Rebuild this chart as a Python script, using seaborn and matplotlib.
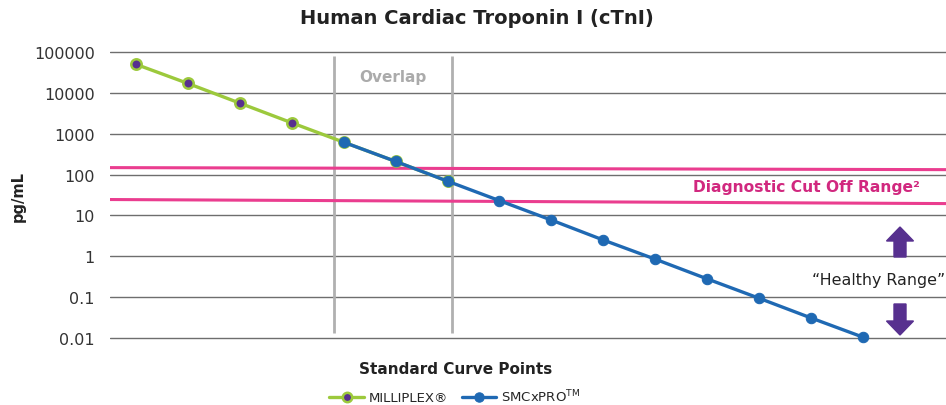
import pandas as pd
import matplotlib.pyplot as plt
import seaborn as sns
from matplotlib.patches import FancyArrow

# ---------------------------------------------------------------
# Data
# ---------------------------------------------------------------
milliplex_pts = [0, 1, 2, 3, 4, 5, 6]
milliplex_vals = [50000, 17000, 5600, 1850, 620, 210, 69]

smcx_pts = [4, 5, 6, 7, 8, 9, 10, 11, 12, 13, 14]
smcx_vals = [620, 210, 69, 23, 7.7, 2.5, 0.85, 0.28, 0.094, 0.031, 0.0105]

cutoff_x = [-0.5, 15.6]
cutoff_high = [148, 132]
cutoff_low = [24.5, 19.5]

overlap_x = [3.81, 6.08]
yticks = [0.01, 0.1, 1, 10, 100, 1000, 10000, 100000]
ytick_labels = ["0.01", "0.1", "1", "10", "100", "1000", "10000", "100000"]

df_m = pd.DataFrame({"point": milliplex_pts, "value": milliplex_vals})
df_s = pd.DataFrame({"point": smcx_pts, "value": smcx_vals})

# ---------------------------------------------------------------
# Style
# ---------------------------------------------------------------
sns.set_style("white")
plt.rcParams['font.family'] = ['DejaVu Sans']

GREEN = "#9cc93c"
PURPLE = "#57308f"
BLUE = "#1f69b3"
PINK = "#ea3d8f"
MAGENTA = "#d1287f"

fig = plt.figure(figsize=(9.46, 4.06), dpi=100)
# 0.01 sits at y=339px, 1e5 at y=53px; pad 0.1 decade on both ends
px_dec = 286 / 7
ax = fig.add_axes([110 / 946, (406 - 339 - 0.1 * px_dec) / 406,
                   836 / 946, (286 + 0.2 * px_dec) / 406])

ax.set_yscale("log")
ax.set_ylim(10 ** -2.1, 10 ** 5.1)
ax.set_xlim(-0.5, 15.6)
ax.set_yticks(yticks)
ax.set_yticklabels(ytick_labels, fontsize=11.5, color="#333333")
ax.minorticks_off()
ax.set_xticks([])
ax.tick_params(axis="y", length=0, pad=11)
for s in ax.spines.values():
    s.set_visible(False)
ax.grid(axis="y", color="#555555", linewidth=1.0, alpha=0.85)
ax.set_axisbelow(True)

# overlap region
ax.vlines(overlap_x, 0.013, 80000, color="#b0b0b0", linewidth=2, zorder=1)
ax.text(sum(overlap_x) / 2, 25000, "Overlap", ha="center", va="center",
        fontsize=11, fontweight="bold", color="#ababab")

# cut-off lines
ax.plot(cutoff_x, cutoff_high, color=PINK, linewidth=2.2, zorder=2)
ax.plot(cutoff_x, cutoff_low, color=PINK, linewidth=2.2, zorder=2)

# series
sns.lineplot(data=df_m, x="point", y="value", ax=ax, color=GREEN, linewidth=2.4,
             marker="o", markersize=7.5, markerfacecolor=PURPLE,
             markeredgecolor=GREEN, markeredgewidth=1.8, label="MILLIPLEX®",
             zorder=3, clip_on=False)
sns.lineplot(data=df_s, x="point", y="value", ax=ax, color=BLUE, linewidth=2.4,
             marker="o", markersize=7.5, markerfacecolor=BLUE,
             markeredgecolor=BLUE, label="SMCxPRO$^{\\rm TM}$",
             zorder=4, clip_on=False)

ax.set_xlabel("")
ax.set_ylabel("")

# annotations
fig.text(806 / 946, 1 - 188 / 406, "Diagnostic Cut Off Range²", ha="center",
         va="center", fontsize=11.2, fontweight="bold", color=MAGENTA)
fig.text(879 / 946, 1 - 280 / 406, "\u201cHealthy Range\u201d", ha="center",
         va="center", fontsize=11.4, color="#222222")

up = FancyArrow(9.00, 4.06 - 2.58, 0, 0.30, width=0.12, head_width=0.27,
                head_length=0.14, length_includes_head=True, color=PURPLE,
                transform=fig.dpi_scale_trans)
down = FancyArrow(9.00, 4.06 - 3.05, 0, -0.31, width=0.12, head_width=0.27,
                  head_length=0.14, length_includes_head=True, color=PURPLE,
                  transform=fig.dpi_scale_trans)
fig.add_artist(up)
fig.add_artist(down)

fig.text(477 / 946, 1 - 19 / 406, "Human Cardiac Troponin I (cTnI)",
         ha="center", va="center", fontsize=14, fontweight="bold",
         color="#222222")
fig.text(456 / 946, 1 - 370 / 406, "Standard Curve Points", ha="center",
         va="center", fontsize=11, fontweight="bold", color="#222222")
fig.text(18 / 946, 1 - 196 / 406, "pg/mL", ha="center", va="center",
         rotation=90, fontsize=10.5, fontweight="bold", color="#222222")

ax.get_legend().remove()
handles, labels = ax.get_legend_handles_labels()
fig.legend(handles, labels, loc="center", bbox_to_anchor=(455 / 946, 1 - 397 / 406),
           ncol=2, frameon=False, fontsize=9.5, handlelength=2.6,
           columnspacing=1.0, handletextpad=0.4, markerscale=0.9)

fig.savefig("out.png", dpi=100)
